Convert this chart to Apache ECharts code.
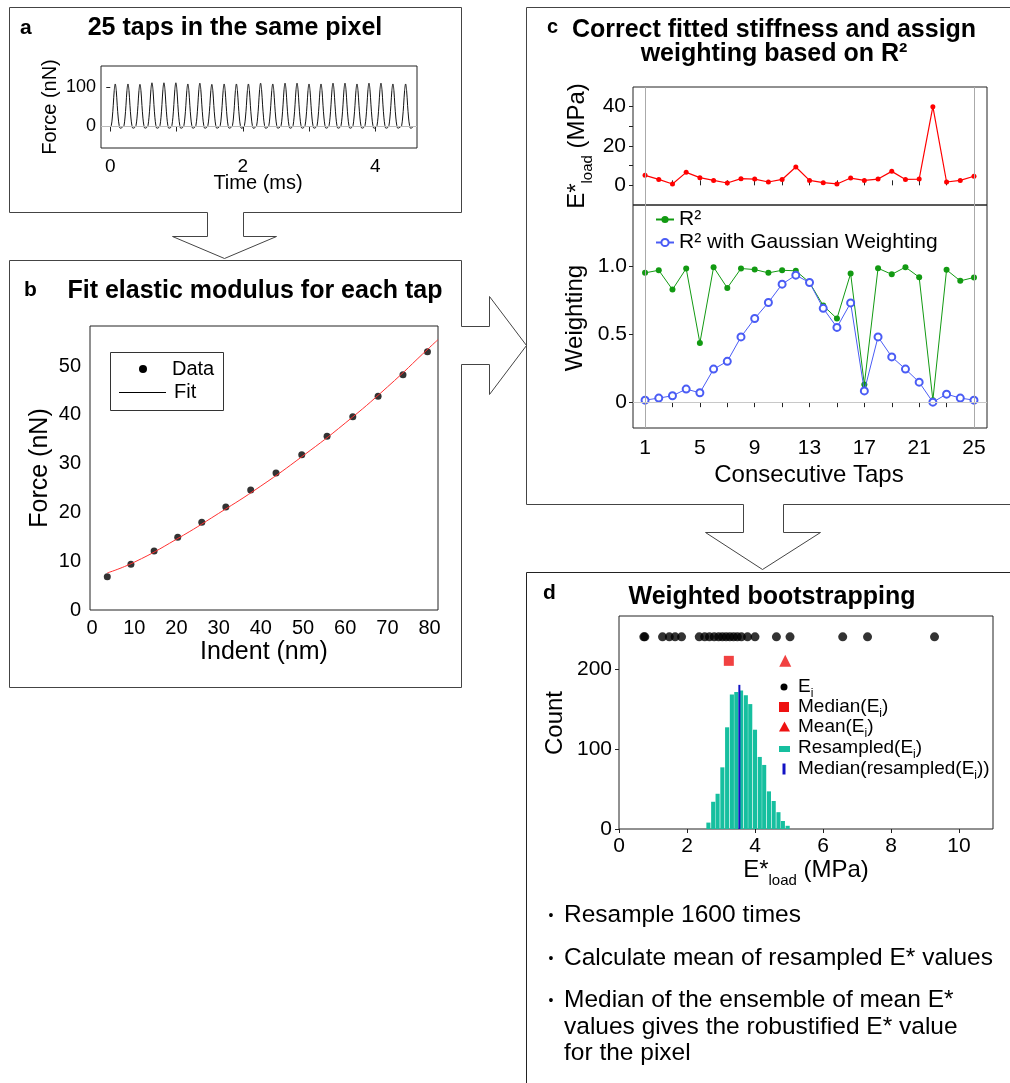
<!DOCTYPE html>
<html><head><meta charset="utf-8">
<script src="https://cdn.jsdelivr.net/npm/echarts@6/dist/echarts.min.js"></script>
<style>html,body{margin:0;padding:0;background:#fff}#c{width:1010px;height:1083px}</style>
</head><body><div id="c"></div>
<script>
// ---------- Panel a: 25 taps force trace ----------
const tapPeakTimes = [0.075,0.267,0.448,0.629,0.81,0.99,1.171,1.352,1.533,1.719,1.904,2.085,2.269,2.453,2.638,2.819,3.0,3.181,3.362,3.543,3.724,3.905,4.086,4.266,4.458];
const tapPeakForces = [109,109,108,112,112,112,109,111,108,109,109,109,111,109,111,111,109,109,111,111,109,111,111,109,109];
const tapShapeDt   = [-0.07,-0.06,-0.045,-0.03,-0.015,0,0.015,0.03,0.045,0.06,0.075,0.095,0.11];
const tapShapeFrac = [0,0.02,0.2,0.5,0.85,1,0.85,0.5,0.2,0.02,-0.04,-0.03,-0.01];
const timeTicks = [0,1,2,3,4];
const timeLabels = [0,2,4];
const forceTicksA = [0,100];

// ---------- Panel b: force vs indent ----------
const indentNm = [3.6,9.2,14.7,20.3,26.0,31.7,37.6,43.6,49.7,55.7,61.8,67.8,73.7,79.5];
const forceNn  = [6.8,9.35,12.1,14.9,18.0,21.1,24.6,28.1,31.8,35.6,39.6,43.8,48.2,52.9];
const fitIndent = [3.6,10,20,30,40,50,60,70,80,82];
const fitForce  = [7.6,9.8,14.5,19.8,25.4,31.6,38.3,45.7,53.8,55.4];
const indentTicks = [0,10,20,30,40,50,60,70,80];
const forceTicksB = [0,10,20,30,40,50];

// ---------- Panel c: stiffness and weighting per tap ----------
const taps = [1,2,3,4,5,6,7,8,9,10,11,12,13,14,15,16,17,18,19,20,21,22,23,24,25];
const eLoad = [5.1,3.0,0.7,6.6,3.9,2.5,1.2,3.4,3.2,1.7,3.0,9.3,2.5,1.35,0.7,3.7,2.5,3.2,7.1,3.0,3.2,40,1.7,2.5,4.6];
const r2 = [0.951,0.97,0.828,0.983,0.436,0.993,0.84,0.983,0.975,0.951,0.97,0.966,0.88,0.71,0.615,0.946,0.13,0.985,0.94,0.993,0.919,0.015,0.973,0.892,0.917];
const r2Gauss = [0.015,0.03,0.047,0.096,0.069,0.243,0.3,0.48,0.615,0.733,0.868,0.934,0.88,0.69,0.55,0.73,0.083,0.48,0.333,0.243,0.147,0.0,0.059,0.03,0.015];
const tapTicks = [1,3,5,7,9,11,13,15,17,19,21,23,25];
const tapLabels = [1,5,9,13,17,21,25];
const eTicksC = [0,10,20,30,40];
const eLabelsC = [0,20,40];
const weightTicks = [0,0.5,1];

// ---------- Panel d: weighted bootstrapping ----------
const eiValues = [0.73,0.76,1.28,1.48,1.65,1.84,2.36,2.52,2.66,2.8,2.93,3.04,3.15,3.26,3.37,3.48,3.6,3.78,4.0,4.63,5.03,6.58,7.31,9.28];
const eiLevel = 240;
const medianEi = 3.23, meanEi = 4.89, statLevel = 210;
const binCenters = [2.63,2.77,2.90,3.04,3.18,3.32,3.45,3.59,3.73,3.86,4.00,4.14,4.27,4.41,4.55,4.69,4.82,4.96];
const binCounts  = [8,34,44,77,127,168,171,173,167,156,124,90,80,47,35,21,10,4];
const medianResampled = 3.54, medianResampledTop = 180;
const eTicksD = [0,2,4,6,8,10];
const countTicks = [0,100,200];

// ---------- build ----------
const FONT = "'Liberation Sans', Arial, Helvetica, sans-serif";
const traceData = [[0,0]];
tapPeakTimes.forEach((tp,i)=>{ tapShapeDt.forEach((dt,j)=>{ traceData.push([tp+dt, tapPeakForces[i]*tapShapeFrac[j]]); }); });

function axis(gi, min, max, ticks, labels, o) {
  o = o || {};
  const lab = {show: labels.length>0, customValues: labels, fontSize: o.fs||20, color:'#000', fontFamily: FONT, margin: o.margin||6};
  if (o.fmt) lab.formatter = o.fmt;
  return {
    type:'value', gridIndex:gi, min:min, max:max,
    axisLine:{show:false}, splitLine:{show:false},
    axisTick:{show: ticks.length>0, customValues: ticks, inside: !!o.inside, length: o.tickLen||4, lineStyle:{color:'#222', width:1}},
    axisLabel: lab
  };
}
const gridBase = {show:true, borderColor:'#222', borderWidth:1, backgroundColor:'transparent', containLabel:false, outerBoundsMode:'none'};

const pairs = (xs, ys) => xs.map((x,i)=>[x, ys[i]]);

const option = {
  animation:false,
  textStyle:{fontFamily:FONT},
  grid:[
    Object.assign({left:101, top:66, width:316, height:82}, gridBase),
    Object.assign({left:90, top:326, width:348, height:284}, gridBase),
    Object.assign({left:633, top:87, width:354, height:118}, gridBase),
    Object.assign({left:633, top:205, width:354, height:223}, gridBase),
    Object.assign({left:619, top:616, width:374, height:213}, gridBase)
  ],
  xAxis:[
    axis(0,-0.14,4.63,timeTicks,timeLabels,{fs:19, tickLen:5, margin:9}),
    axis(1,-0.5,82,[],indentTicks,{fs:20, margin:8}),
    axis(2,0.12,25.95,tapTicks,[],{inside:true, tickLen:5}),
    axis(3,0.12,25.95,tapTicks,tapLabels,{fs:21, tickLen:5, margin:10}),
    axis(4,0,11,eTicksD,eTicksD,{fs:21, tickLen:4, margin:7})
  ],
  yAxis:[
    axis(0,-55,155,forceTicksA,forceTicksA,{fs:18, tickLen:4, margin:5}),
    axis(1,0,58.2,[],forceTicksB,{fs:20, margin:9}),
    axis(2,-10,50,eTicksC,eLabelsC,{fs:21, tickLen:4, margin:7}),
    axis(3,-0.19,1.45,weightTicks,weightTicks,{fs:21, tickLen:4, margin:6, fmt:v=> v===1?'1.0':String(v)}),
    axis(4,0,266,countTicks,countTicks,{fs:21, tickLen:4, margin:7})
  ],
  legend:{
    data:['R²','R² with Gaussian Weighting'], orient:'vertical', left:655, top:209,
    itemWidth:18, itemHeight:9, itemGap:2, padding:0,
    textStyle:{fontSize:21, color:'#000', fontFamily:FONT}
  },
  series:[
    {type:'line', xAxisIndex:0, yAxisIndex:0, data:traceData, showSymbol:false, smooth:0.35,
     lineStyle:{color:'#111', width:1}, z:3, emphasis:{disabled:true},
     markLine:{silent:true, symbol:['none','none'], label:{show:false}, lineStyle:{color:'#bbb', width:1, type:'solid'}, data:[{yAxis:forceTicksA[0]}]}},
    {type:'line', xAxisIndex:1, yAxisIndex:1, data:pairs(fitIndent, fitForce), showSymbol:false, smooth:true,
     lineStyle:{color:'#ff3030', width:1}, emphasis:{disabled:true}},
    {type:'scatter', xAxisIndex:1, yAxisIndex:1, data:pairs(indentNm, forceNn), symbolSize:7,
     itemStyle:{color:'#000'}, emphasis:{disabled:true}},
    {type:'line', xAxisIndex:2, yAxisIndex:2, data:pairs(taps, eLoad), symbol:'circle', symbolSize:5,
     lineStyle:{color:'#ff0000', width:1.2}, itemStyle:{color:'#ff0000'}, emphasis:{disabled:true},
     markLine:{silent:true, symbol:['none','none'], label:{show:false}, lineStyle:{color:'#aaa', width:1, type:'solid'}, data:[{xAxis:taps[0]},{xAxis:taps[24]}]}},
    {name:'R²', type:'line', xAxisIndex:3, yAxisIndex:3, data:pairs(taps, r2), symbol:'circle', symbolSize:6,
     lineStyle:{color:'#129a12', width:1}, itemStyle:{color:'#129a12'}, emphasis:{disabled:true}, z:3,
     markLine:{silent:true, symbol:['none','none'], label:{show:false}, lineStyle:{color:'#aaa', width:1, type:'solid'},
       data:[{xAxis:taps[0]},{xAxis:taps[24]},{yAxis:weightTicks[0], lineStyle:{color:'#c8c8c8', width:1, type:'solid'}}]}},
    {name:'R² with Gaussian Weighting', type:'line', xAxisIndex:3, yAxisIndex:3, data:pairs(taps, r2Gauss), symbol:'emptyCircle', symbolSize:7,
     lineStyle:{color:'#4a5cf5', width:1}, itemStyle:{color:'#4a5cf5', borderWidth:1}, emphasis:{disabled:true}, z:4},
    {type:'bar', xAxisIndex:4, yAxisIndex:4, data:pairs(binCenters, binCounts), barWidth:4.1,
     itemStyle:{color:'#16bf9f'}, emphasis:{disabled:true}},
    {type:'line', xAxisIndex:4, yAxisIndex:4, data:[[medianResampled,0],[medianResampled,medianResampledTop]], showSymbol:false,
     lineStyle:{color:'#1212c4', width:2}, z:5, emphasis:{disabled:true}},
    {type:'scatter', xAxisIndex:4, yAxisIndex:4, data:eiValues.map(v=>[v, eiLevel]), symbolSize:9,
     itemStyle:{color:'#000'}, emphasis:{disabled:true}},
    {type:'scatter', xAxisIndex:4, yAxisIndex:4, data:[[medianEi, statLevel]], symbol:'rect', symbolSize:10,
     itemStyle:{color:'#ee1111'}, emphasis:{disabled:true}},
    {type:'scatter', xAxisIndex:4, yAxisIndex:4, data:[[meanEi, statLevel]], symbol:'triangle', symbolSize:12,
     itemStyle:{color:'#ee1111'}, emphasis:{disabled:true}}
  ],
  graphic:[]
};

const G = option.graphic;
const LC = '#444';
function poly(pts, stroke){ G.push({type:'polyline', silent:true, shape:{points:pts}, style:{stroke:stroke||LC, fill:null, lineWidth:1}}); }
function txt(x,y,text,o){
  o=o||{};
  G.push({type:'text', x:x, y:y, rotation:o.rot||0, silent:true, z:10,
    style:{text:text, fontSize:o.fs||20, fontWeight:o.fw||'normal', fontFamily:FONT, fill:'#000',
      align:o.align||'center', verticalAlign:'middle', rich:o.rich, lineHeight:o.lh}});
}
// panel boxes and arrows
poly([[9.5,212.5],[9.5,7.5],[461.5,7.5],[461.5,212.5],[243.5,212.5],[243.5,236.5],[276.5,236.5],[224.5,258.5],[172.5,236.5],[207.5,236.5],[207.5,212.5],[9.5,212.5]]);
poly([[9.5,260.5],[461.5,260.5],[461.5,326.5],[489.5,326.5],[489.5,296.5],[526.5,345.5],[489.5,394.5],[489.5,364.5],[461.5,364.5],[461.5,687.5],[9.5,687.5],[9.5,260.5]]);
poly([[1010,7.5],[526.5,7.5],[526.5,504.5],[743.5,504.5],[743.5,532.5],[705.5,532.5],[762.5,569.5],[820.5,532.5],[783.5,532.5],[783.5,504.5],[1010,504.5]]);
poly([[1010,572.5],[526.5,572.5],[526.5,1083]], '#222');

// panel labels and titles
txt(20,28,'a',{fs:21, fw:'bold', align:'left'});
txt(235,28,'25 taps in the same pixel',{fs:25, fw:'bold'});
txt(24,290,'b',{fs:21, fw:'bold', align:'left'});
txt(255,291,'Fit elastic modulus for each tap',{fs:25, fw:'bold'});
txt(547,27,'c',{fs:20, fw:'bold', align:'left'});
txt(774,30,'Correct fitted stiffness and assign',{fs:25, fw:'bold'});
txt(774,54,'weighting based on R²',{fs:25, fw:'bold'});
txt(543,593,'d',{fs:21, fw:'bold', align:'left'});
txt(772,597,'Weighted bootstrapping',{fs:25, fw:'bold'});

// axis names
const subRich = (main, sub, mlh) => ({m:{fontSize:main, lineHeight:mlh, fontFamily:FONT, fill:'#000'}, s:{fontSize:sub, lineHeight:sub, verticalAlign:'bottom', fontFamily:FONT, fill:'#000'}});
txt(50,107,'Force (nN)',{fs:20, rot:Math.PI/2});
txt(258,183,'Time (ms)',{fs:20});
txt(40,468,'Force (nN)',{fs:25, rot:Math.PI/2});
txt(264,652,'Indent (nm)',{fs:25});
txt(577,146,'{m|E*}{s|load}{m| (MPa)}',{rot:Math.PI/2, rich:subRich(24,15,36)});
txt(575,318,'Weighting',{fs:24, rot:Math.PI/2});
txt(809,475,'Consecutive Taps',{fs:24});
txt(555,723,'Count',{fs:24, rot:Math.PI/2});
txt(806,870,'{m|E*}{s|load}{m| (MPa)}',{rich:subRich(24,15,36)});

// panel b legend
G.push({type:'rect', silent:true, shape:{x:110.5,y:352.5,width:113,height:58}, style:{fill:'#fff', stroke:'#333', lineWidth:1}, z:8});
G.push({type:'circle', silent:true, shape:{cx:143,cy:369,r:4}, style:{fill:'#000'}, z:9});
G.push({type:'line', silent:true, shape:{x1:119,y1:392.5,x2:166,y2:392.5}, style:{stroke:'#000', lineWidth:1}, z:9});
txt(172,369,'Data',{fs:20, align:'left'});
txt(174,392,'Fit',{fs:20, align:'left'});

// panel d legend
G.push({type:'circle', silent:true, shape:{cx:784,cy:687,r:3.5}, style:{fill:'#000'}, z:9});
G.push({type:'rect', silent:true, shape:{x:779,y:702,width:10,height:10}, style:{fill:'#ee1111'}, z:9});
G.push({type:'polygon', silent:true, shape:{points:[[784.5,721.5],[790,731.5],[779,731.5]]}, style:{fill:'#ee1111'}, z:9});
G.push({type:'rect', silent:true, shape:{x:779,y:746,width:11,height:6}, style:{fill:'#16bf9f'}, z:9});
G.push({type:'rect', silent:true, shape:{x:782.5,y:763.5,width:3,height:11}, style:{fill:'#1212c4'}, z:9});
const legR = subRich(19,12,26);
txt(798,687,'{m|E}{s|i}',{align:'left', rich:legR});
txt(798,707,'{m|Median(E}{s|i}{m|)}',{align:'left', rich:legR});
txt(798,727,'{m|Mean(E}{s|i}{m|)}',{align:'left', rich:legR});
txt(798,748,'{m|Resampled(E}{s|i}{m|)}',{align:'left', rich:legR});
txt(798,769,'{m|Median(resampled(E}{s|i}{m|))}',{align:'left', rich:legR});

// bullets
const bullets = [[915,'Resample 1600 times',true],[958,'Calculate mean of resampled E* values',true],[1000,'Median of the ensemble of mean E*',true],[1027,'values gives the robustified E* value',false],[1053,'for the pixel',false]];
bullets.forEach(b=>{ if(b[2]) txt(551,b[0]+1,'•',{fs:14}); txt(564,b[0],b[1],{fs:24.5, align:'left'}); });

const chart = echarts.init(document.getElementById('c'), null, {renderer:'canvas'});
chart.setOption(option);
</script></body></html>
